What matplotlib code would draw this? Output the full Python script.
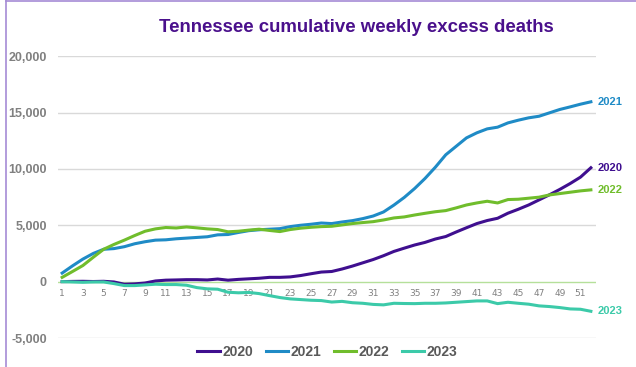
import numpy as np
import matplotlib
matplotlib.use('Agg')
import matplotlib.pyplot as plt
from matplotlib.lines import Line2D

plt.rcParams['font.family'] = ['Liberation Sans', 'DejaVu Sans']

weeks = list(range(1, 53))

y2020 = [0, 20, 30, 10, 30, -30, -230, -200, -120, 60, 130, 150, 175, 175, 150, 230,
         130, 200, 250, 300, 380, 380, 420, 540, 700, 850, 900, 1120, 1380, 1670, 1960,
         2300, 2680, 2970, 3250, 3480, 3780, 4000, 4400, 4780, 5150, 5420, 5620, 6070,
         6420, 6800, 7250, 7700, 8180, 8700, 9270, 10100]
y2021 = [760, 1400, 2000, 2500, 2870, 2930, 3100, 3360, 3540, 3680, 3710, 3800, 3860,
         3920, 3980, 4150, 4180, 4360, 4520, 4600, 4650, 4700, 4880, 5000, 5090, 5200,
         5150, 5290, 5410, 5590, 5820, 6180, 6790, 7470, 8260, 9150, 10150, 11250,
         12000, 12750, 13200, 13550, 13700, 14080, 14320, 14530, 14670, 14970, 15270,
         15500, 15740, 15950]
y2022 = [380, 900, 1430, 2160, 2870, 3300, 3680, 4090, 4470, 4680, 4800, 4760, 4850,
         4770, 4680, 4620, 4420, 4470, 4570, 4650, 4540, 4440, 4620, 4740, 4820, 4880,
         4910, 5030, 5150, 5240, 5320, 5470, 5650, 5740, 5910, 6060, 6200, 6300, 6540,
         6800, 6980, 7130, 6980, 7280, 7310, 7400, 7490, 7690, 7810, 7930, 8050, 8140]
y2023 = [0, -30, -60, -30, -30, -175, -350, -350, -290, -230, -260, -260, -320, -530,
         -640, -670, -940, -990, -960, -1060, -1240, -1410, -1530, -1590, -1650, -1680,
         -1810, -1750, -1870, -1920, -2020, -2060, -1920, -1940, -1950, -1920, -1920,
         -1890, -1830, -1770, -1710, -1710, -1950, -1830, -1920, -2000, -2150, -2210,
         -2300, -2420, -2450, -2630]

series = [('2020', y2020, '#3f0f8f'),
          ('2021', y2021, '#1f8bc6'),
          ('2022', y2022, '#70bd2c'),
          ('2023', y2023, '#3ccaa9')]

fig = plt.figure(figsize=(6.36, 3.67), dpi=100)
ax = fig.add_axes([0.0912, 0.079, 0.846, 0.768])

for label, vals, color in series:
    ax.plot(weeks, vals, color=color, lw=2.2, label=label, zorder=3)
    ax.annotate(label, xy=(weeks[-1], vals[-1]), xytext=(5, 0),
                textcoords='offset points', va='center', ha='left',
                color=color, fontsize=8, fontweight='bold')

ax.set_xlim(0.6, 52.5)
ax.set_ylim(-5000, 20000)
ax.set_yticks([-5000, 0, 5000, 10000, 15000, 20000])
ax.set_yticklabels(['-5,000', '0', '5,000', '10,000', '15,000', '20,000'])
for y in [-5000, 5000, 10000, 15000, 20000]:
    ax.axhline(y, color='#d9d9d9', lw=1, zorder=1)
ax.axhline(0, color='#b5e09a', lw=1, zorder=2)

# week labels hang under the zero line, not at the bottom of the axes
ax.spines['bottom'].set_position(('data', 0))
ax.set_xticks(range(1, 52, 2))
ax.tick_params(axis='x', length=0, labelsize=6.5, labelcolor='#808080', pad=5)
ax.tick_params(axis='y', length=0, labelsize=9, labelcolor='#808080', pad=8)
for t in ax.get_yticklabels():
    t.set_fontweight('bold')
for t in ax.get_xticklabels():
    t.set_fontfamily('DejaVu Sans')
for s in ax.spines.values():
    s.set_visible(False)

fig.text(0.561, 0.926, 'Tennessee cumulative weekly excess deaths', ha='center',
         va='center', fontsize=13.4, fontweight='bold', color='#4a108c')

leg = fig.legend(loc='center', bbox_to_anchor=(0.515, 0.04), ncol=4, frameon=False,
                 handlelength=1.6, handletextpad=0.2, columnspacing=0.9,
                 prop={'size': 10, 'weight': 'bold'})
for t in leg.get_texts():
    t.set_color('#595959')

fig.add_artist(Line2D([6 / 636, 6 / 636], [0, 1], color='#a58bd6', lw=1.2))
fig.add_artist(Line2D([6 / 636, 1], [0.997, 0.997], color='#a58bd6', lw=1.2))

fig.savefig('out.png', dpi=100)
